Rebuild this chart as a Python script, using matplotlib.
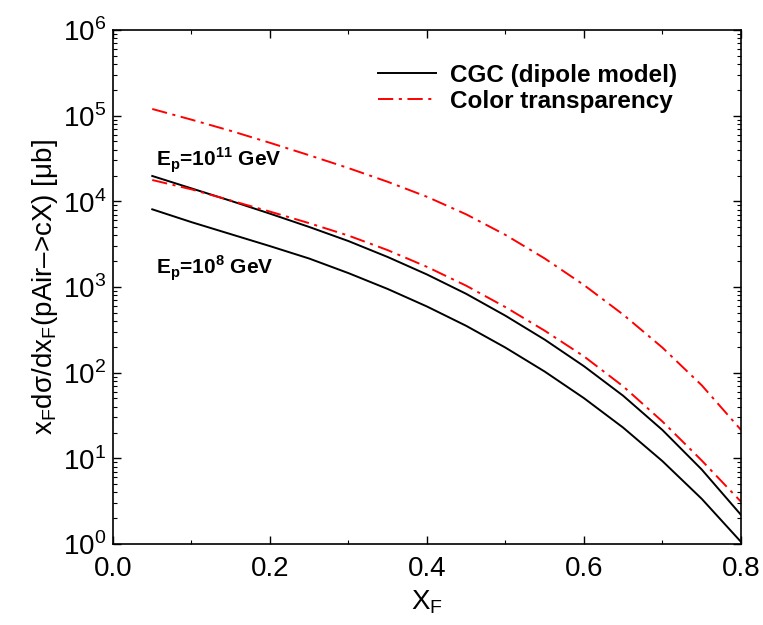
import numpy as np
import matplotlib
matplotlib.use('Agg')
import matplotlib.pyplot as plt
from matplotlib.ticker import LogLocator, MultipleLocator, FixedLocator, NullFormatter

plt.rcParams['font.family'] = ['Liberation Sans', 'DejaVu Sans']
plt.rcParams['mathtext.fontset'] = 'custom'
plt.rcParams['mathtext.rm'] = 'Liberation Sans'
plt.rcParams['lines.scale_dashes'] = False

#%% Data (x_F, x_F dsigma/dx_F in microbarn)
xf = [0.05, 0.10, 0.15, 0.20, 0.25, 0.30, 0.35, 0.40,
      0.45, 0.50, 0.55, 0.60, 0.65, 0.70, 0.75, 0.80]

cgc_1e8 = [8070, 5715, 4140, 3000, 2148, 1452, 948, 592,
           352, 196, 103, 50.4, 22.8, 9.27, 3.37, 1.06]
cgc_1e11 = [19770, 14160, 10140, 7180, 5020, 3436, 2239, 1400,
            832, 462, 243, 119, 53.7, 21.4, 7.41, 2.19]
ct_1e8 = [17740, 13800, 10230, 7590, 5560, 3981, 2692, 1718,
          1035, 582, 309, 155, 69.2, 26.9, 9.44, 3.12]
ct_1e11 = [119700, 89800, 66500, 48200, 34500, 24430, 16900, 11300,
           7050, 4055, 2153, 1054, 476, 196, 71.3, 21.5]

labels = ['CGC (dipole model)', 'Color transparency']

#%% Plot
fig = plt.figure(figsize=(7.63, 6.25), dpi=100)
ax = fig.add_axes([0.1481, 0.1296, 0.823, 0.8224])

dashdot = (0, (11, 4, 2.2, 4))
l1, = ax.plot(xf, cgc_1e8, color='k', lw=1.4)
ax.plot(xf, cgc_1e11, color='k', lw=1.4)
l2, = ax.plot(xf, ct_1e8, color='red', lw=1.4, linestyle=dashdot)
ax.plot(xf, ct_1e11, color='red', lw=1.4, linestyle=dashdot)

ax.set_yscale('log')
ax.set_xlim(0, 0.8)
ax.set_ylim(1, 1e6)
ax.xaxis.set_major_locator(MultipleLocator(0.2))
ax.xaxis.set_minor_locator(MultipleLocator(0.1))
ax.xaxis.set_major_formatter(plt.FormatStrFormatter('%.1f'))
ax.yaxis.set_major_locator(FixedLocator([1, 10, 100, 1e3, 1e4, 1e5, 1e6]))
ax.yaxis.set_minor_locator(LogLocator(base=10, subs=np.arange(2, 10), numticks=20))
ax.yaxis.set_minor_formatter(NullFormatter())
ax.set_yticklabels([r'10$^\mathregular{%d}$' % i for i in range(7)])
ax.tick_params(which='both', direction='in', top=True, right=True, labelsize=20)
ax.tick_params(which='major', length=6, width=1)
ax.tick_params(which='minor', length=3, width=0.8)
ax.tick_params(axis='x', pad=9)
ax.tick_params(axis='y', pad=5)
for s in ax.spines.values():
    s.set_linewidth(1.2)

ax.set_xlabel(r'X$_\mathregular{F}$', fontsize=20, labelpad=4)
ax.set_ylabel(r'x$_\mathregular{F}$dσ/dx$_\mathregular{F}$(pAir–>cX) [μb]', fontsize=20, labelpad=2)

ax.text(0.068, 0.735, r'E$_\mathregular{p}$=10$^\mathregular{11}$ GeV',
        transform=ax.transAxes, fontsize=15, fontweight='bold')
ax.text(0.068, 0.525, r'E$_\mathregular{p}$=10$^\mathregular{8}$ GeV',
        transform=ax.transAxes, fontsize=15, fontweight='bold')

fig.legend([l1, l2], labels, loc='upper left', frameon=False,
           prop={'size': 17.5, 'weight': 'bold'}, handlelength=2.4,
           handletextpad=0.55, labelspacing=0.13, borderpad=0, borderaxespad=0,
           bbox_to_anchor=(0.4954, 0.898))

fig.savefig('out.png', dpi=100)
